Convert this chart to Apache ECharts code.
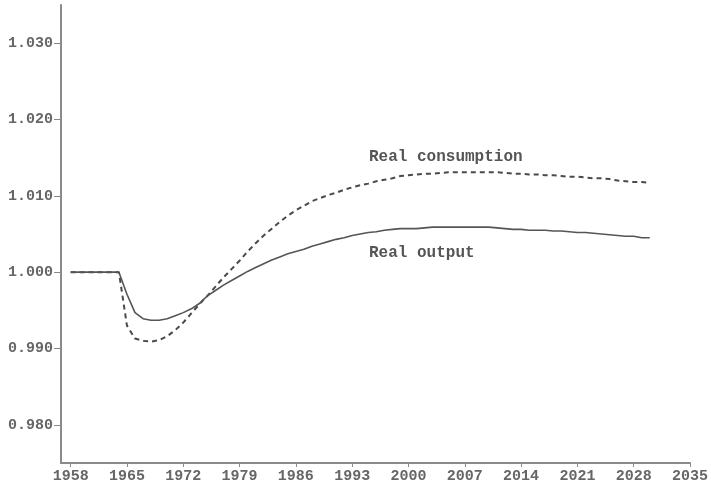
<!DOCTYPE html>
<html>
<head>
<meta charset="utf-8">
<script src="https://cdn.jsdelivr.net/npm/echarts@6/dist/echarts.min.js"></script>
<style>html,body{margin:0;padding:0;background:#fff}#c{width:711px;height:492px}</style>
</head>
<body>
<div id="c"></div>
<script>
var years = [];
for (var y = 1958; y <= 2030; y++) years.push(y);

var realOutput = [
 1.0000,1.0000,1.0000,1.0000,1.0000,1.0000,1.0000,           // 1958-1964
 0.9971,0.9947,0.9939,0.9937,0.9937,0.9939,0.9943,0.9947,0.9952,0.9959, // 1965-1974
 0.9969,0.9976,0.9983,0.9989,0.9995,1.0001,1.0006,1.0011,1.0016,1.0020, // 1975-1984
 1.0024,1.0027,1.0030,1.0034,1.0037,1.0040,1.0043,1.0045,1.0048,1.0050, // 1985-1994
 1.0052,1.0053,1.0055,1.0056,1.0057,1.0057,1.0057,1.0058,1.0059,1.0059, // 1995-2004
 1.0059,1.0059,1.0059,1.0059,1.0059,1.0059,1.0058,1.0057,1.0056,1.0056, // 2005-2014
 1.0055,1.0055,1.0055,1.0054,1.0054,1.0053,1.0052,1.0052,1.0051,1.0050, // 2015-2024
 1.0049,1.0048,1.0047,1.0047,1.0045,1.0045                              // 2025-2030
];

var realConsumption = [
 1.0000,1.0000,1.0000,1.0000,1.0000,1.0000,1.0000,           // 1958-1964
 0.9930,0.9913,0.9910,0.9909,0.9911,0.9916,0.9924,0.9934,0.9946,0.9958, // 1965-1974
 0.9969,0.9981,0.9993,1.0004,1.0015,1.0027,1.0038,1.0048,1.0057,1.0066, // 1975-1984
 1.0074,1.0081,1.0087,1.0093,1.0097,1.0101,1.0104,1.0108,1.0111,1.0114, // 1985-1994
 1.0116,1.0119,1.0121,1.0123,1.0126,1.0127,1.0128,1.0129,1.0129,1.0130, // 1995-2004
 1.0131,1.0131,1.0131,1.0131,1.0131,1.0131,1.0131,1.0130,1.0129,1.0129, // 2005-2014
 1.0128,1.0128,1.0127,1.0127,1.0126,1.0125,1.0125,1.0124,1.0123,1.0123, // 2015-2024
 1.0122,1.0120,1.0119,1.0118,1.0118,1.0117                              // 2025-2030
];

var xTicks = [1958,1965,1972,1979,1986,1993,2000,2007,2014,2021,2028,2035];
var yTicks = [0.98,0.99,1.00,1.01,1.02,1.03];
var seriesNames = ['Real consumption','Real output'];

function pairs(vals){ return years.map(function(yr,i){ return [yr, vals[i]]; }); }

var font = '"Liberation Mono", "DejaVu Sans Mono", monospace';
var chart = echarts.init(document.getElementById('c'), null, {renderer:'canvas'});
chart.setOption({
  animation: false,
  backgroundColor: '#ffffff',
  grid: {left: 61, right: 13, top: 5, bottom: 29},
  xAxis: {
    type: 'value', min: 1956.8, max: 2035,
    axisLine: {show: true, onZero: false, lineStyle: {color: '#8a8a8a', width: 2}},
    axisTick: {show: true, customValues: xTicks, length: 4, lineStyle: {color: '#8a8a8a', width: 1}},
    axisLabel: {customValues: xTicks, color: '#666', fontFamily: font, fontSize: 15, fontWeight: 'bold', margin: 6,
      formatter: function(v){ return String(v); }},
    splitLine: {show: false}
  },
  yAxis: {
    type: 'value', min: 0.975, max: 1.035,
    axisLine: {show: true, lineStyle: {color: '#8a8a8a', width: 2}},
    axisTick: {show: true, customValues: yTicks, length: 7, lineStyle: {color: '#8a8a8a', width: 1}},
    axisLabel: {customValues: yTicks, color: '#666', fontFamily: font, fontSize: 15, fontWeight: 'bold', margin: 8,
      formatter: function(v){ return v.toFixed(3); }},
    splitLine: {show: false}
  },
  series: [
    {name: seriesNames[0], type: 'line', data: pairs(realConsumption), symbol: 'none',
     lineStyle: {color: '#4a4a4a', width: 2, type: [5, 4]}},
    {name: seriesNames[1], type: 'line', data: pairs(realOutput), symbol: 'none',
     lineStyle: {color: '#555555', width: 1.6}}
  ],
  graphic: [
    {type: 'text', left: 369, top: 149, style: {text: seriesNames[0], fill: '#555', font: 'bold 16px ' + font}},
    {type: 'text', left: 369, top: 245, style: {text: seriesNames[1], fill: '#555', font: 'bold 16px ' + font}}
  ]
});
</script>
</body>
</html>
